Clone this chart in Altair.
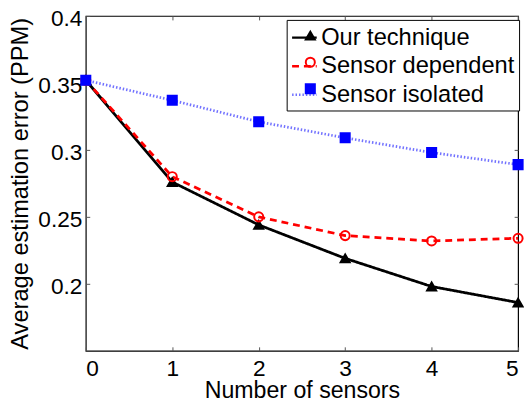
import altair as alt
import pandas as pd

FONT = "Liberation Sans"

sensors = [0, 1, 2, 3, 4, 5]
our_technique = [0.352, 0.276, 0.244, 0.219, 0.198, 0.186]
sensor_dependent = [0.352, 0.280, 0.250, 0.236, 0.232, 0.234]
sensor_isolated = [0.352, 0.337, 0.321, 0.309, 0.298, 0.289]
series_names = ["Our technique", "Sensor dependent", "Sensor isolated"]
x_ticks = [0, 1, 2, 3, 4, 5]
y_ticks = [0.2, 0.25, 0.3, 0.35, 0.4]

line_colors = ["black", "red", "#7272ff"]
line_dashes = [[1, 0], [7, 5], [1.5, 2]]
point_colors = ["black", "red", "blue"]
point_fills = ["black", "transparent", "blue"]
point_shapes = ["triangle-up", "circle", "square"]

rows = []
for name, vals in zip(series_names, [our_technique, sensor_dependent, sensor_isolated]):
    for x, v in zip(sensors, vals):
        rows.append({"sensors": x, "error": v, "series": name})
df = pd.DataFrame(rows)

x_scale = alt.Scale(domain=[0, 5], nice=False, zero=False)
y_scale = alt.Scale(domain=[0.15, 0.4], nice=False, zero=False)

x_bottom = alt.Axis(orient="bottom", values=x_ticks, format="d", tickSize=4, offset=-4,
                    domain=False, labelPadding=7, labelFontSize=23,
                    title="Number of sensors", titleFontSize=23.5, titlePadding=-2,
                    grid=False)
y_left = alt.Axis(orient="left", values=y_ticks, format=".2~f", tickSize=4, offset=-4,
                  domain=False, labelPadding=4, labelFontSize=23, labelOffset=3,
                  title="Average estimation error (PPM)", titleFontSize=24,
                  titlePadding=5, grid=False)
x_top = alt.Axis(orient="top", values=x_ticks, tickSize=4, offset=-4, domain=False,
                 labels=False, title=None, grid=False)
y_right = alt.Axis(orient="right", values=y_ticks, tickSize=4, offset=-4, domain=False,
                   labels=False, title=None, grid=False)

line_legend = alt.Legend(orient="none", legendX=204, legendY=4, title=None, padding=4,
                         strokeColor="black", fillColor="white", symbolType="stroke",
                         symbolSize=625, symbolStrokeWidth=2.5, labelFont=FONT,
                         labelFontSize=24, labelOffset=3, rowPadding=3, labelLimit=400,
                         labelColor="black")
point_legend = alt.Legend(orient="none", legendX=212, legendY=4, title=None, padding=4,
                          symbolSize=85, symbolStrokeWidth=2, labelFont=FONT,
                          labelFontSize=24, labelOffset=3, rowPadding=3, labelLimit=400,
                          labelOpacity=0)

lines = alt.Chart(df).mark_line(strokeWidth=2.8).encode(
    x=alt.X("sensors:Q", scale=x_scale, axis=x_bottom),
    y=alt.Y("error:Q", scale=y_scale, axis=y_left),
    color=alt.Color("series:N", scale=alt.Scale(domain=series_names, range=line_colors),
                    legend=line_legend),
    strokeDash=alt.StrokeDash("series:N", scale=alt.Scale(domain=series_names, range=line_dashes),
                              legend=line_legend),
    order=alt.Order("sensors:Q"),
)

points = alt.Chart(df).mark_point(size=85, strokeWidth=2, opacity=1).encode(
    x=alt.X("sensors:Q", scale=x_scale, axis=x_top),
    y=alt.Y("error:Q", scale=y_scale, axis=y_right),
    color=alt.Color("series:N", scale=alt.Scale(domain=series_names, range=point_colors),
                    legend=point_legend),
    fill=alt.Fill("series:N", scale=alt.Scale(domain=series_names, range=point_fills),
                  legend=point_legend),
    shape=alt.Shape("series:N", scale=alt.Scale(domain=series_names, range=point_shapes),
                    legend=point_legend),
)

chart = alt.layer(lines, points).resolve_scale(
    color="independent", fill="independent", shape="independent", strokeDash="independent"
).resolve_axis(x="independent", y="independent").properties(
    width=439, height=340,
    autosize=alt.AutoSizeParams(type="none"),
    padding={"left": 79, "top": 5, "right": 6, "bottom": 54},
).configure_view(stroke="black", strokeWidth=1.2).configure_axis(
    labelFont=FONT, titleFont=FONT,
    labelColor="black", titleColor="black", tickColor="#555555", tickWidth=1,
    titleFontWeight="normal",
)

chart.save("out.html", embed_options={"renderer": "svg", "actions": False})
